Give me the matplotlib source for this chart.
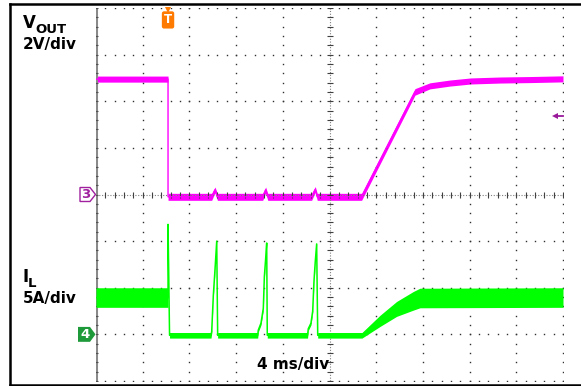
import matplotlib
matplotlib.use('Agg')
import matplotlib.pyplot as plt
import matplotlib.transforms as mtransforms
from matplotlib.patches import Polygon
from matplotlib.lines import Line2D
import numpy as np

# Scope capture: VOUT (2 V/div) and IL (5 A/div), 4 ms/div
# time in ms

vout_t = [0, 6.17, 6.17, 9.91, 10.19, 10.40, 14.28, 14.53, 14.71, 18.47, 18.78, 18.95,
          22.75, 27.32, 28.6, 30.3, 32.1, 34.6, 37.2, 40.0]
vout_v = [4.95, 4.95, -0.10, -0.10, 0.20, -0.10, -0.10, 0.20, -0.10, -0.10, 0.22, -0.10,
          -0.10, 4.40, 4.66, 4.78, 4.87, 4.91, 4.93, 4.96]
vout_noise = [0.13, 0.13, 0.15, 0.15, 0.12, 0.15, 0.15, 0.12, 0.15, 0.15, 0.12, 0.15,
              0.15, 0.14, 0.13, 0.13, 0.13, 0.13, 0.13, 0.13]

il_t = [0, 6.17, 6.17, 6.30,
        9.85, 9.91, 10.05, 10.19, 10.34, 10.42,
        13.85, 13.90, 14.13, 14.33, 14.42, 14.53, 14.62, 14.67,
        18.12, 18.18, 18.41, 18.56, 18.67, 18.78, 18.90, 18.99,
        22.78, 24.33, 25.75, 27.18, 27.75, 40.0]
il_a = [3.95, 3.95, 11.8, -0.10,
        -0.10, 0.30, 4.2, 6.9, 10.0, -0.10,
        -0.10, 0.46, 1.2, 2.8, 6.2, 8.1, 9.8, -0.10,
        -0.10, 0.60, 1.2, 2.5, 5.7, 7.8, 9.7, -0.10,
        -0.10, 1.45, 2.73, 3.60, 3.90, 3.95]
il_noise = [1.05, 1.05, 0.1, 0.3,
            0.3, 0.2, 0.2, 0.2, 0.1, 0.3,
            0.3, 0.2, 0.2, 0.2, 0.2, 0.2, 0.1, 0.3,
            0.3, 0.2, 0.2, 0.2, 0.2, 0.2, 0.1, 0.3,
            0.3, 0.6, 0.8, 1.0, 1.05, 1.05]

trig_t = 6.17
trig_level = 3.37

W, H = 581, 386
fig = plt.figure(figsize=(W / 100, H / 100), dpi=100)
ax = fig.add_axes([96 / W, 5 / H, 467 / W, 373 / H])
ax.set_xlim(0, 40)
ax.set_ylim(-8, 8)
ax.set_axis_off()

# graticule
dot = dict(ls='none', marker='s', ms=1.0, mew=0, color='#303030')
for t in [4, 8, 12, 16, 24, 28, 32, 36, 40]:
    ax.plot([t] * 41, np.linspace(-8, 8, 41), **dot)
for v in [-8, -6, -4, -2, 2, 4, 6, 8]:
    ax.plot(np.linspace(0, 40, 51), [v] * 51, **dot)
ax.axhline(0, color='#808080', lw=0.8, ls=(0, (1, 1.5)))
ax.axvline(20, color='#808080', lw=0.8, ls=(0, (1, 1.5)))
ax.plot(np.linspace(0, 40, 51), [0] * 51, ls='none', marker='|', ms=4, mew=0.8, color='#404040')
ax.plot([20] * 41, np.linspace(-8, 8, 41), ls='none', marker='_', ms=4, mew=0.8, color='#404040')
ax.axvline(0, color='#8a8a8a', lw=2.2)
ax.plot([0] * 41, np.linspace(-8, 8, 41), ls='none', marker='_', ms=3, mew=0.8, color='#505050')

# VOUT trace
vlo = np.array(vout_v) - np.array(vout_noise)
vhi = np.array(vout_v) + np.array(vout_noise)
ax.fill_between(vout_t, vlo, vhi, color='#ff00ff', lw=0)
ax.plot(vout_t, vout_v, color='#ff00ff', lw=1)

# IL trace on its own scale
ax2 = ax.twinx()
ax2.set_ylim(-5, 35)
ax2.set_axis_off()
ilo = np.array(il_a) - np.array(il_noise)
ihi = np.array(il_a) + np.array(il_noise)
ax2.fill_between(il_t, ilo, ihi, color='#00ff00', lw=0)
ax2.plot(il_t, il_a, color='#00ff00', lw=1.1)

# trigger marker
bt = mtransforms.blended_transform_factory(ax.transData, ax.transAxes)
ax.plot(trig_t, 0.994, marker='v', ms=5, mew=0, color='#ff7a00', transform=bt, clip_on=False)
ax.text(trig_t, 0.968, 'T', ha='center', va='center', color='white', fontweight='bold',
        fontsize=8.5, transform=bt,
        bbox=dict(boxstyle='round,pad=0.18', fc='#ff7a00', ec='none'))

# trigger level arrow
ax.plot([39.3, 40], [trig_level, trig_level], color='#99199a', lw=1.3, clip_on=False)
ax.plot(39.3, trig_level, marker='<', ms=5, mew=0, color='#99199a', clip_on=False)

# channel ground markers
b3 = mtransforms.blended_transform_factory(ax.transAxes, ax.transData)
px = lambda x: (x - 96) / 467
ch3 = Polygon([(px(80), 0.3), (px(90), 0.3), (px(95.5), 0), (px(90), -0.3), (px(80), -0.3)],
              closed=True, fc='white', ec='#a0209f', lw=1, transform=b3, clip_on=False)
ax.add_patch(ch3)
ax.text(px(86), -0.02, '3', ha='center', va='center', color='#a0209f', fontweight='bold',
        fontsize=9.5, transform=b3, clip_on=False)
b4 = mtransforms.blended_transform_factory(ax2.transAxes, ax2.transData)
ch4 = Polygon([(px(78), 0.8), (px(90), 0.8), (px(95.5), 0), (px(90), -0.8), (px(78), -0.8)],
              closed=True, fc='#1e9a3a', ec='none', transform=b4, clip_on=False)
ax2.add_patch(ch4)
ax2.text(px(85), -0.05, '4', ha='center', va='center', color='white', fontweight='bold',
         fontsize=9.5, transform=b4, clip_on=False)

# labels
def label(x, y, s, size):
    fig.text(x / W, 1 - y / H, s, fontsize=size, fontweight='bold', va='baseline', ha='left',
             family='DejaVu Sans')

label(23, 28, 'V', 12)
label(35, 33, 'OUT', 9.5)
label(23, 48.5, '2V/div', 11)
label(22, 282, 'I', 12)
label(28, 287, 'L', 9.5)
label(23, 303, '5A/div', 11)
label(257, 369, '4 ms/div', 11)

# outer frame: top, left, bottom (right side runs off the capture)
fx = lambda x: x / W
fy = lambda y: 1 - y / H
for xs, ys in [([10, W], [4, 4]), ([10, 10], [4, 385]), ([10, W], [385, 385])]:
    fig.add_artist(Line2D([fx(x) for x in xs], [fy(y) for y in ys], color='black', lw=1.8,
                          transform=fig.transFigure))

fig.savefig('out.png', dpi=100)
